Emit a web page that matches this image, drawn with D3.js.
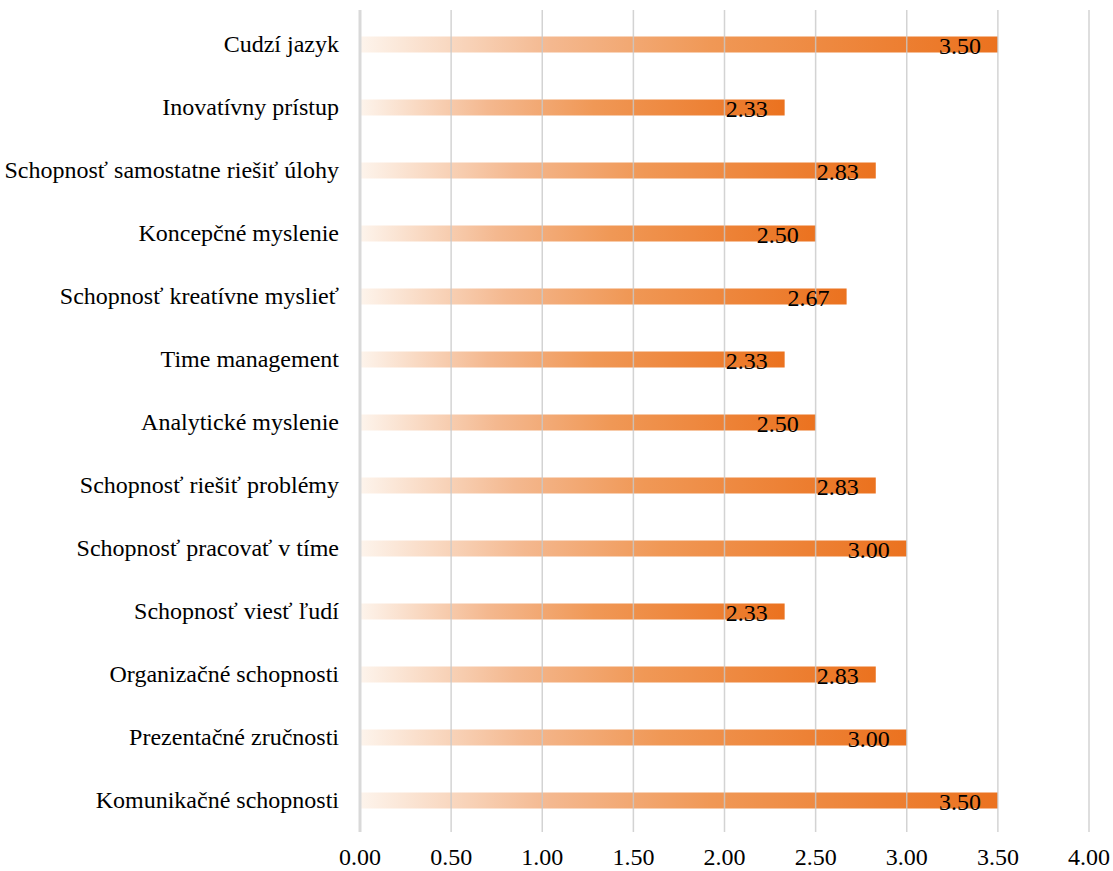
<!DOCTYPE html>
<html>
<head>
<meta charset="utf-8">
<script src="https://cdn.jsdelivr.net/npm/d3@7"></script>
<style>
  body { margin: 0; background: #fff; }
</style>
</head>
<body>
<svg id="chart" width="1113" height="871"></svg>
<script>
const categories = [
    "Cudzí jazyk",
    "Inovatívny prístup",
    "Schopnosť samostatne riešiť úlohy",
    "Koncepčné myslenie",
    "Schopnosť kreatívne myslieť",
    "Time management",
    "Analytické myslenie",
    "Schopnosť riešiť problémy",
    "Schopnosť pracovať v tíme",
    "Schopnosť viesť ľudí",
    "Organizačné schopnosti",
    "Prezentačné zručnosti",
    "Komunikačné schopnosti"
];
const values = [3.50, 2.33, 2.83, 2.50, 2.67, 2.33, 2.50, 2.83, 3.00, 2.33, 2.83, 3.00, 3.50];
const xTicks = [0, 0.5, 1, 1.5, 2, 2.5, 3, 3.5, 4];

const font = "'Liberation Serif', 'Times New Roman', Times, serif";
const svg = d3.select("#chart");
const plotLeft = 360, plotRight = 1089, plotTop = 13, plotBottom = 832;

const x = d3.scaleLinear().domain([0, 4]).range([plotLeft, plotRight]);
const y = d3.scaleBand().domain(categories).range([plotTop, plotBottom]).paddingInner(0.746).paddingOuter(0.373);

// gradient per bar
const defs = svg.append("defs");
const grad = defs.append("linearGradient")
    .attr("id", "barGrad")
    .attr("x1", "0").attr("x2", "1").attr("y1", "0").attr("y2", "0");
grad.append("stop").attr("offset", "0").attr("stop-color", "#fdf4ec");
grad.append("stop").attr("offset", "0.3").attr("stop-color", "#f4b88f");
grad.append("stop").attr("offset", "0.55").attr("stop-color", "#f09856");
grad.append("stop").attr("offset", "1").attr("stop-color", "#eb721f");

// bars
svg.append("g")
    .selectAll("rect")
    .data(values)
    .join("rect")
    .attr("x", x(0))
    .attr("y", (d, i) => y(categories[i]))
    .attr("width", d => x(d) - x(0))
    .attr("height", y.bandwidth())
    .attr("fill", "url(#barGrad)");

// gridlines over the bars
svg.append("g")
    .selectAll("line")
    .data(xTicks.slice(1))
    .join("line")
    .attr("x1", d => x(d)).attr("x2", d => x(d))
    .attr("y1", plotTop - 3).attr("y2", plotBottom)
    .attr("stroke", "#c8c8c8")
    .attr("stroke-opacity", 0.8)
    .attr("stroke-width", 1.5);

// axis line at zero
svg.append("line")
    .attr("x1", x(0)).attr("x2", x(0))
    .attr("y1", plotTop - 3).attr("y2", plotBottom)
    .attr("stroke", "#d9d9d9")
    .attr("stroke-width", 3);

// x tick labels
svg.append("g")
    .selectAll("text")
    .data(xTicks)
    .join("text")
    .attr("x", d => x(d))
    .attr("y", 865)
    .attr("text-anchor", "middle")
    .attr("font-family", font)
    .attr("font-size", "24px")
    .attr("fill", "#000")
    .text(d => d.toFixed(2));

// category labels
svg.append("g")
    .selectAll("text")
    .data(categories)
    .join("text")
    .attr("x", 339)
    .attr("y", d => y(d) + y.bandwidth() / 2)
    .attr("dy", "0.33em")
    .attr("text-anchor", "end")
    .attr("font-family", font)
    .attr("font-size", "24px")
    .attr("fill", "#000")
    .text(d => d);

// value labels
svg.append("g")
    .selectAll("text")
    .data(values)
    .join("text")
    .attr("x", d => x(d) - 17)
    .attr("y", (d, i) => y(categories[i]) + y.bandwidth() / 2)
    .attr("dy", "0.38em")
    .attr("text-anchor", "end")
    .attr("font-family", font)
    .attr("font-size", "24px")
    .attr("fill", "#000")
    .text(d => d.toFixed(2));
</script>
</body>
</html>
